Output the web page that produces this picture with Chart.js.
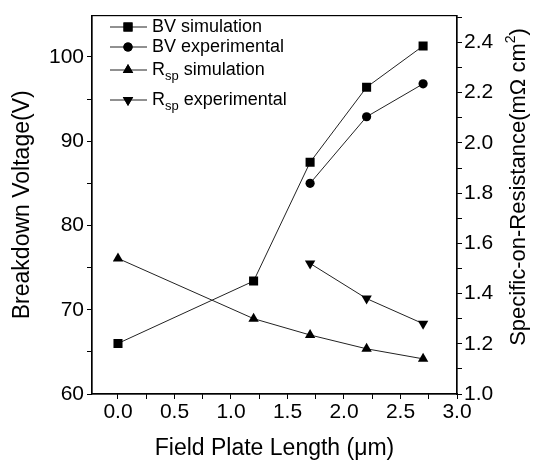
<!DOCTYPE html>
<html>
<head>
<meta charset="utf-8">
<script src="https://cdn.jsdelivr.net/npm/chart.js@4.4.0/dist/chart.umd.min.js"></script>
<style>
  html, body { margin: 0; padding: 0; background: #fff; }
  #wrap { width: 539px; height: 464px; position: relative; }
</style>
</head>
<body>
<div id="wrap"><canvas id="myChart" width="539" height="464"></canvas></div>
<script>
// field plate length (um)
const lengthSim = [0, 1.2, 1.7, 2.2, 2.7];
const lengthExp = [1.7, 2.2, 2.7];
// breakdown voltage (V)
const bvSim = [66.0, 73.4, 87.5, 96.4, 101.3];
const bvExp = [85.0, 92.9, 96.8];
// specific on-resistance (mOhm cm2)
const rspSim = [1.54, 1.30, 1.235, 1.18, 1.14];
const rspExp = [1.52, 1.38, 1.28];

const xTicks = [0, 0.5, 1.0, 1.5, 2.0, 2.5, 3.0];
const bvTicks = [60, 70, 80, 90, 100];
const rspTicks = [1.0, 1.2, 1.4, 1.6, 1.8, 2.0, 2.2, 2.4];

const legendItems = [
    { label: 'BV simulation', sub: '', style: 'rect', radius: 6.4, rot: 0, y: 27 },
    { label: 'BV experimental', sub: '', style: 'circle', radius: 4.6, rot: 0, y: 47 },
    { label: ' simulation', sub: 'sp', style: 'triangle', radius: 6, rot: 0, y: 70 },
    { label: ' experimental', sub: 'sp', style: 'triangle', radius: 6, rot: 180, y: 100 }
];

const FONT = '"Liberation Sans", Arial, sans-serif';

let toPoints = (xs, ys) => xs.map((x, i) => ({ x: x, y: ys[i] }));

let near = (v, list) => list.some(t => Math.abs(t - v) < 1e-6);

let makeSet = (label, xs, ys, style, radius, rot, axis) => ({
    label: label,
    data: toPoints(xs, ys),
    yAxisID: axis,
    borderColor: '#222',
    borderWidth: 1,
    backgroundColor: '#000',
    pointBackgroundColor: '#000',
    pointBorderColor: '#000',
    pointBorderWidth: 0,
    pointStyle: style,
    pointRadius: radius,
    pointRotation: rot,
    tension: 0
});

const extras = {
    id: 'extras',
    afterDraw(chart) {
        const c = chart.ctx;
        const a = chart.chartArea;
        c.save();
        // frame
        c.strokeStyle = '#000';
        c.lineWidth = 1.2;
        c.strokeRect(a.left, a.top, a.right - a.left, a.bottom - a.top);

        // legend
        c.fillStyle = '#000';
        c.textBaseline = 'middle';
        legendItems.forEach(it => {
            c.strokeStyle = '#222';
            c.lineWidth = 1;
            c.beginPath();
            c.moveTo(110, it.y);
            c.lineTo(147, it.y);
            c.stroke();
            c.fillStyle = '#000';
            Chart.helpers.drawPoint(c, { pointStyle: it.style, radius: it.radius, rotation: it.rot, borderWidth: 0 }, 128, it.y);
            c.fill();
            let x = 152;
            c.font = '18px ' + FONT;
            if (it.sub) {
                c.fillText('R', x, it.y);
                x += c.measureText('R').width;
                c.font = '13px ' + FONT;
                c.fillText(it.sub, x, it.y + 6);
                x += c.measureText(it.sub).width;
                c.font = '18px ' + FONT;
            }
            c.fillText(it.label, x, it.y);
        });

        // right axis title, read bottom to top
        c.translate(519, 187);
        c.rotate(-Math.PI / 2);
        const main = 'Specific-on-Resistance(m\u03A9 cm';
        c.font = '22px ' + FONT;
        const w1 = c.measureText(main).width;
        c.font = '14px ' + FONT;
        const w2 = c.measureText('2').width;
        c.font = '22px ' + FONT;
        const w3 = c.measureText(')').width;
        let x0 = -(w1 + w2 + w3) / 2;
        c.textBaseline = 'middle';
        c.fillText(main, x0, 0);
        c.font = '14px ' + FONT;
        c.fillText('2', x0 + w1, -8);
        c.font = '22px ' + FONT;
        c.fillText(')', x0 + w1 + w2, 0);
        c.restore();
    }
};

let ctx = document.getElementById('myChart').getContext('2d');
let myChart = new Chart(ctx, {
    type: 'line',
    data: {
        datasets: [
            makeSet('BV simulation', lengthSim, bvSim, 'rect', 6.4, 0, 'y'),
            makeSet('BV experimental', lengthExp, bvExp, 'circle', 4.6, 0, 'y'),
            makeSet('Rsp simulation', lengthSim, rspSim, 'triangle', 6, 0, 'y2'),
            makeSet('Rsp experimental', lengthExp, rspExp, 'triangle', 6, 180, 'y2')
        ]
    },
    options: {
        responsive: false,
        animation: false,
        layout: { padding: { top: 6, left: 0, right: 0, bottom: 0 } },
        plugins: {
            legend: { display: false },
            tooltip: { enabled: false }
        },
        scales: {
            x: {
                type: 'linear',
                min: -0.23,
                max: 3.0,
                afterFit: (s) => { s.height = 70; },
                border: { color: '#000', width: 1.2 },
                grid: { drawOnChartArea: false, drawTicks: true, tickLength: 5, tickColor: '#000' },
                ticks: {
                    stepSize: 0.25,
                    includeBounds: false,
                    autoSkip: false,
                    maxRotation: 0,
                    padding: 1,
                    color: '#000',
                    font: { family: FONT, size: 21 },
                    callback: (v) => near(v, xTicks) ? v.toFixed(1) : ''
                },
                title: {
                    display: true,
                    text: 'Field Plate Length (\u03BCm)',
                    color: '#000',
                    font: { family: FONT, size: 23 },
                    padding: { top: 0, bottom: 2 }
                }
            },
            y: {
                position: 'left',
                min: 60,
                max: 104.9,
                afterFit: (s) => { s.width = 92; },
                border: { color: '#000', width: 1.2 },
                grid: { drawOnChartArea: false, drawTicks: true, tickLength: 5, tickColor: '#000' },
                ticks: {
                    stepSize: 5,
                    includeBounds: false,
                    autoSkip: false,
                    padding: 3,
                    color: '#000',
                    font: { family: FONT, size: 21 },
                    callback: (v) => near(v, bvTicks) ? String(v) : ''
                },
                title: {
                    display: true,
                    text: 'Breakdown Voltage(V)',
                    color: '#000',
                    font: { family: FONT, size: 23 },
                    padding: { top: 9, bottom: 0 }
                }
            },
            y2: {
                position: 'right',
                min: 1.0,
                max: 2.507,
                afterFit: (s) => { s.width = 82; },
                border: { color: '#000', width: 1.2 },
                grid: { drawOnChartArea: false, drawTicks: true, tickLength: 5, tickColor: '#000' },
                ticks: {
                    stepSize: 0.1,
                    includeBounds: false,
                    autoSkip: false,
                    padding: 2,
                    color: '#000',
                    font: { family: FONT, size: 21 },
                    callback: (v) => near(v, rspTicks) ? v.toFixed(1) : ''
                }
            }
        }
    },
    plugins: [extras]
});
</script>
</body>
</html>
